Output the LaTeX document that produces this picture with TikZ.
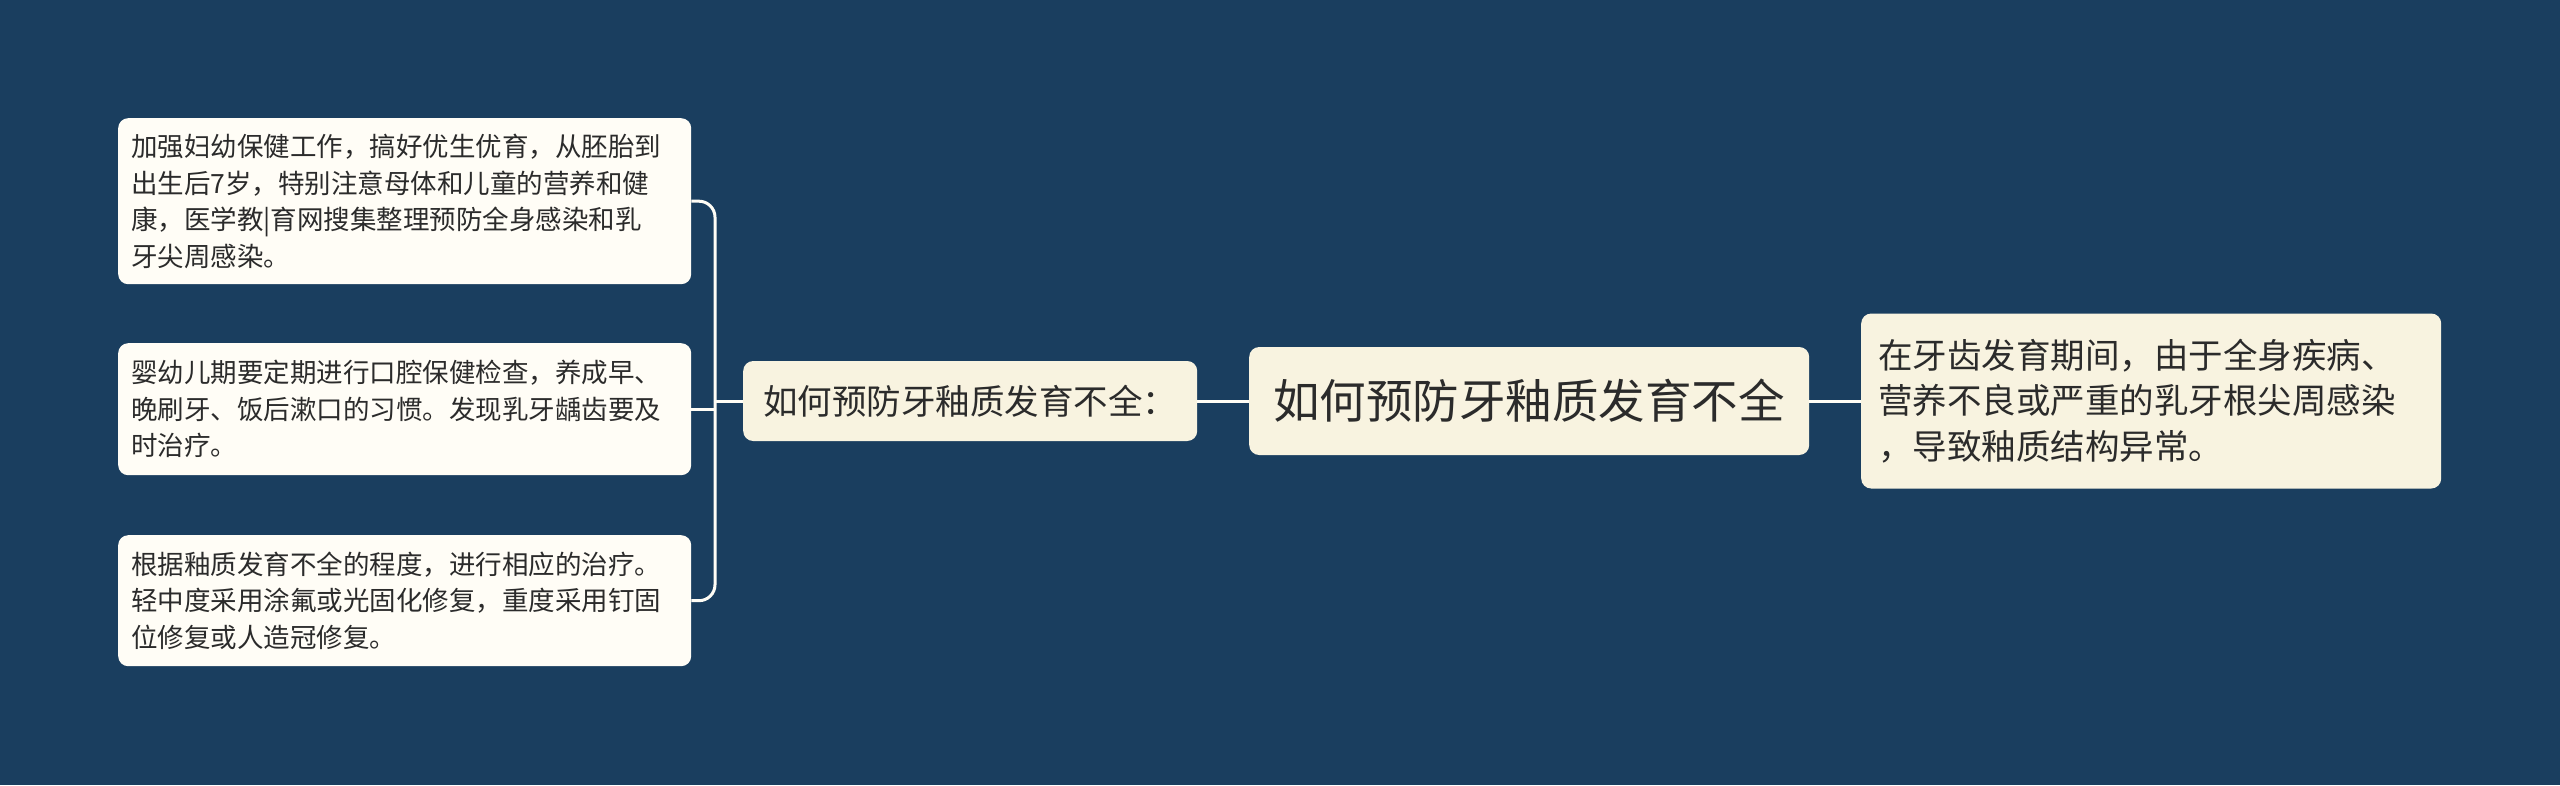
\documentclass[tikz,border=0pt]{standalone}
\usepackage{fontspec}
\setmainfont{Noto Sans CJK SC}
\definecolor{bg}{HTML}{1A3E5F}
\definecolor{leaf}{HTML}{FFFDF6}
\definecolor{cream}{HTML}{F8F3E0}
\definecolor{ink}{HTML}{2B2B2B}
\definecolor{wire}{HTML}{FFFDF6}
\begin{document}
\begin{tikzpicture}[x=1pt,y=1pt,
  leafbox/.style={fill=leaf, rounded corners=10pt, inner xsep=13pt, inner ysep=0pt,
    minimum width=573pt, text width=547pt, align=left, text=ink,
    font=\fontsize{26.5}{36.5}\selectfont, anchor=north west},
  creambox/.style={fill=cream, rounded corners=10pt, text=ink, anchor=west, inner ysep=0pt},
  conn/.style={draw=wire, line width=3pt, rounded corners=16pt}]
\fill[bg] (0,0) rectangle (2560,-785);
\useasboundingbox (0,0) rectangle (2560,-785);

\node[leafbox, minimum height=166pt] (b1) at (118,-118) {加强妇幼保健工作，搞好优生优育，从胚胎到\\出生后7岁，特别注意母体和儿童的营养和健\\康，医学教|育网搜集整理预防全身感染和乳\\牙尖周感染。};
\node[leafbox, minimum height=132pt] (b2) at (118,-343) {婴幼儿期要定期进行口腔保健检查，养成早、\\晚刷牙、饭后漱口的习惯。发现乳牙龋齿要及\\时治疗。};
\node[leafbox, minimum height=131pt] (b3) at (118,-535) {根据釉质发育不全的程度，进行相应的治疗。\\轻中度采用涂氟或光固化修复，重度采用钉固\\位修复或人造冠修复。};

\node[creambox, minimum width=454pt, minimum height=80pt, inner xsep=12pt,
  font=\fontsize{34.5}{40}\selectfont] (mid) at (743,-401) {如何预防牙釉质发育不全：};
\node[creambox, minimum width=560pt, minimum height=108pt, inner xsep=20pt,
  font=\fontsize{46.5}{56}\selectfont] (root) at (1249,-401) {如何预防牙釉质发育不全};
\node[creambox, minimum width=580pt, minimum height=175pt, inner xsep=17pt,
  text width=546pt, align=left,
  font=\fontsize{34.5}{45.7}\selectfont] (rt) at (1861,-401) {在牙齿发育期间，由于全身疾病、\\营养不良或严重的乳牙根尖周感染\\，导致釉质结构异常。};

\coordinate (j) at (715,-401);
\draw[conn] (b1.east) -| (j);
\draw[conn] (b3.east) -| (j);
\draw[conn, rounded corners=0pt] (b2.east) -- (b2.east -| j);
\draw[conn, rounded corners=0pt] (j) -- (mid.west);
\draw[conn, rounded corners=0pt] (mid.east) -- (root.west);
\draw[conn, rounded corners=0pt] (root.east) -- (rt.west);
\end{tikzpicture}
\end{document}
